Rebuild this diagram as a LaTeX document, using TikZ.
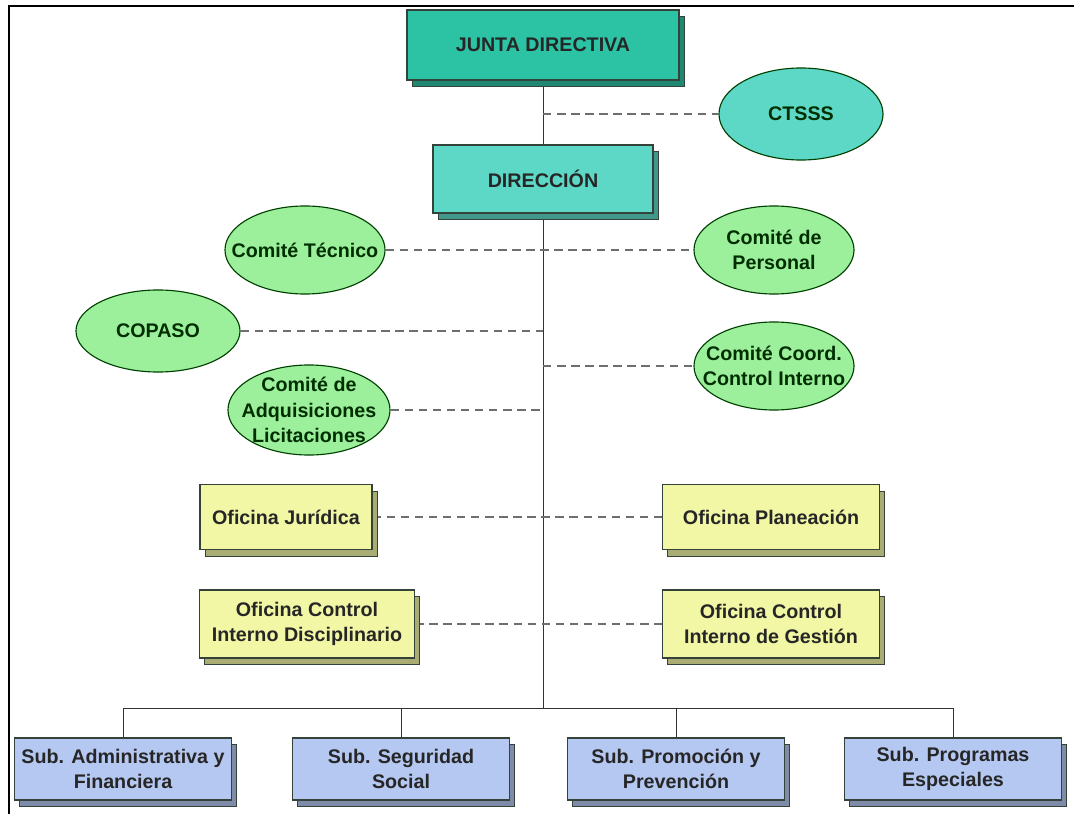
\documentclass[tikz,border=0pt]{standalone}
\usepackage{fontspec}
\setmainfont{Liberation Sans}
\usetikzlibrary{shapes.geometric,shadows,backgrounds}
\definecolor{junta}{HTML}{2CC3A5}
\definecolor{direc}{HTML}{5ED8C6}
\definecolor{comite}{HTML}{9CF09C}
\definecolor{oficina}{HTML}{F2F7A6}
\definecolor{subdir}{HTML}{B5C8F2}
\definecolor{edge}{HTML}{34423A}
\definecolor{dash}{HTML}{6E6E6E}

\tikzset{
  box/.style={draw=edge, thick, fill=#1, align=center, text=black!85,
    font=\bfseries\fontsize{14}{18}\selectfont, inner sep=2pt,
    drop shadow={shadow xshift=0.13cm, shadow yshift=-0.17cm,
      fill=#1!70!black, draw=edge, opacity=1}},
  comite/.style={ellipse, draw=green!25!black, thick, fill=#1,
    minimum width=4cm, minimum height=2.2cm, inner sep=0pt},
  comtext/.style={align=center, text=green!18!black,
    font=\bfseries\fontsize{14}{18}\selectfont},
  dashline/.style={draw=dash, dashed, thick, dash pattern=on 6pt off 4pt},
  solidline/.style={draw=black!80, semithick}
}

\begin{document}
\begin{tikzpicture}[x=0.025cm, y=-0.025cm]
  \useasboundingbox (0,0) rectangle (1074,814);
  \draw[line width=1.6pt] (9,814) -- (9,6) -- (1074,6);

  \node[box=junta, minimum width=6.8cm, minimum height=1.75cm] (junta) at (543,45) {JUNTA DIRECTIVA};
  \node[box=direc, minimum width=5.5cm, minimum height=1.7cm] (direccion) at (543,179) {DIRECCIÓN};
  \node[comite=direc, minimum width=4.1cm, minimum height=2.3cm,
    label={[comtext]center:CTSSS}] (ctsss) at (801,114) {};

  \node[comite=comite, label={[comtext]center:Comité Técnico}] (tecnico) at (305,250) {};
  \node[comite=comite, label={[comtext]center:Comité de\\Personal}] (personal) at (774,250) {};
  \node[comite=comite, minimum width=4.1cm, minimum height=2.05cm,
    label={[comtext]center:COPASO}] (copaso) at (158,331) {};
  \node[comite=comite, label={[comtext]center:Comité Coord.\\Control Interno}] (coord) at (774,366) {};
  \node[comite=comite, minimum width=4.05cm, minimum height=2.25cm,
    label={[comtext]center:Comité de\\Adquisiciones\\Licitaciones}] (adquis) at (309,410) {};

  \node[box=oficina, minimum width=4.3cm, minimum height=1.625cm] (juridica) at (286,517) {Oficina Jurídica};
  \node[box=oficina, minimum width=5.425cm, minimum height=1.625cm] (planeacion) at (771,517) {Oficina Planeación};
  \node[box=oficina, minimum width=5.375cm, minimum height=1.7cm] (disciplinario) at (307,624) {Oficina Control\\Interno Disciplinario};
  \node[box=oficina, minimum width=5.425cm, minimum height=1.7cm] (gestion) at (771,624) {Oficina Control\\Interno de Gestión};

  \foreach \name/\x/\txt in {admin/123/{Sub. Administrativa y\\Financiera},
      seguridad/401/{Sub. Seguridad\\Social},
      promocion/676/{Sub. Promoción y\\Prevención},
      programas/953/{Sub. Programas\\Especiales}} {
    \node[box=subdir, minimum width=5.425cm, minimum height=1.55cm] (\name) at (\x,769) {\txt};
  }

  \coordinate (c1) at (543,114);
  \coordinate (c2) at (543,331);
  \coordinate (c3) at (543,366);
  \coordinate (c4) at (543,410);
  \coordinate (bus) at (543,708);

  \begin{scope}[on background layer]
    \draw[solidline] (junta.south) -- (direccion.north);
    \draw[solidline] (direccion.south) -- (bus);
    \foreach \name in {admin,seguridad,promocion,programas}
      \draw[solidline] (\name.north) |- (bus);
    \draw[dashline] (c1) -- (ctsss);
    \draw[dashline] (tecnico) -- (personal);
    \draw[dashline] (copaso) -- (c2);
    \draw[dashline] (c3) -- (coord);
    \draw[dashline] (adquis) -- (c4);
    \draw[dashline] (juridica) -- (planeacion);
    \draw[dashline] (disciplinario) -- (gestion);
  \end{scope}
\end{tikzpicture}
\end{document}
